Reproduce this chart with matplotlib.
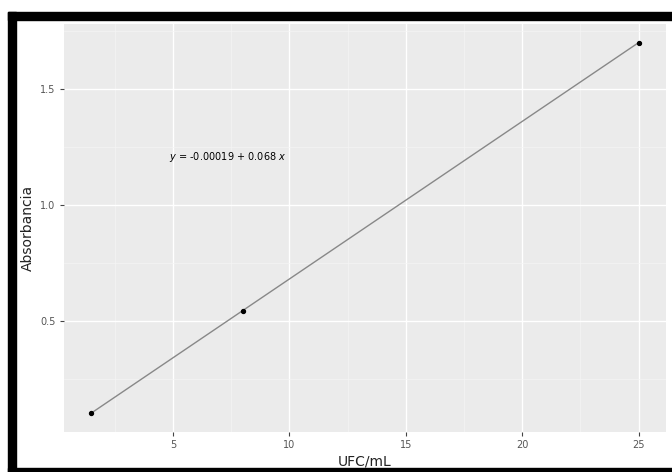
import matplotlib.pyplot as plt
from matplotlib.patches import Rectangle

ufc = [1.5, 8, 25]
absorb = [0.1, 0.54, 1.7]
intercept = -0.00019
slope = 0.068
eq_label = r"$y$ = -0.00019 + 0.068 $x$"

fig = plt.figure(figsize=(6.72, 4.72), dpi=100)
W, H = 672, 472
ax = fig.add_axes([64 / W, 1 - 432 / H, (666 - 64) / W, (432 - 24) / H])
ax.set_facecolor("#ebebeb")

xr = max(ufc) - min(ufc)
yr = max(absorb) - min(absorb)
ax.set_xlim(min(ufc) - 0.05 * xr, max(ufc) + 0.05 * xr)
ax.set_ylim(min(absorb) - 0.05 * yr, max(absorb) + 0.05 * yr)

ax.set_xticks([5, 10, 15, 20, 25])
ax.set_xticks([2.5, 7.5, 12.5, 17.5, 22.5], minor=True)
ax.set_yticks([0.5, 1.0, 1.5])
ax.set_yticks([0.25, 0.75, 1.25, 1.75], minor=True)
ax.set_yticklabels(["0.5", "1.0", "1.5"])
ax.grid(which="major", color="white", linewidth=1.0)
ax.grid(which="minor", color="#f5f5f5", linewidth=0.5)
ax.set_axisbelow(True)
for s in ax.spines.values():
    s.set_visible(False)
ax.tick_params(which="major", length=3, color="#444444", labelsize=7, labelcolor="#555555", pad=3)
ax.tick_params(which="minor", length=0)

xs = [min(ufc), max(ufc)]
ax.plot(xs, [intercept + slope * v for v in xs], color="#888888", linewidth=1.0, zorder=2)
ax.scatter(ufc, absorb, s=8, color="black", zorder=3)
ax.text(4.85, 1.207, eq_label, fontsize=7, color="black", ha="left", va="center")

ax.set_xlabel("UFC/mL", fontsize=10, color="#222222", labelpad=3)
ax.set_ylabel("Absorbancia", fontsize=10, color="#222222", labelpad=4)

# black frame around the screenshot
fig.patches.append(Rectangle((8 / W, 0), 8 / W, 1 - 12 / H, transform=fig.transFigure, color="black"))
fig.patches.append(Rectangle((8 / W, 1 - 20 / H), 1, 8 / H, transform=fig.transFigure, color="black"))
fig.patches.append(Rectangle((8 / W, 0), 1, 4 / H, transform=fig.transFigure, color="black"))

fig.savefig("out.png", dpi=100)
